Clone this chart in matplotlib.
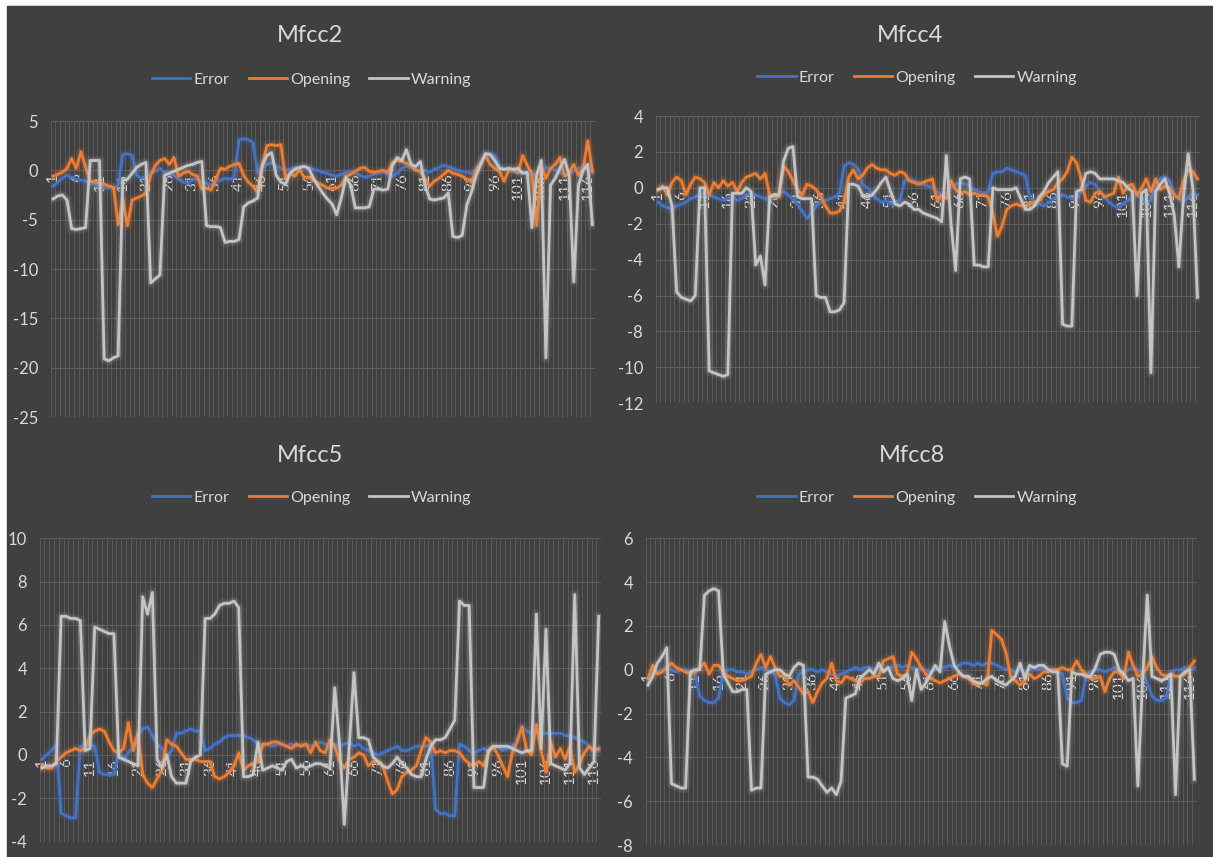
"""Four panels of Mfcc coefficients for the Error / Opening / Warning recordings."""

import matplotlib.pyplot as plt
from matplotlib.lines import Line2D
from matplotlib.patches import Rectangle

samples = list(range(1, 118))
tick_samples = list(range(1, 117, 5))
series_names = ["Error", "Opening", "Warning"]

# --- Mfcc2 ---
mfcc2_error = [
    -1.6, -1.2, -0.8, -0.5, -0.7, -0.9, -1.0, -1.1, -1.3, -1.5,
    -1.6, -1.8, -1.7, -1.9, -1.5, 1.6, 1.7, 1.5, -0.5, -0.8,
    -0.6, -0.3, -0.1, 0.2, -0.2, -0.4, -0.5, -0.9, -1.2, -1.3,
    -1.0, -0.8, -1.1, -1.3, -1.5, -1.2, -1.0, -0.8, -0.9, -0.7,
    3.1, 3.2, 3.1, 2.8, -0.2, 0.3, 0.6, 0.8, 0.4, 0.2,
    0.0, 0.1, 0.3, 0.2, 0.4, 0.3, 0.1, 0.0, -0.2, -0.3,
    -0.5, -0.6, -0.4, -0.2, -0.1, -0.3, -0.5, -0.7, -0.6, -0.4,
    -0.3, -0.2, -0.4, -0.6, -0.3, 0.2, 0.4, 0.3, 0.1, -0.1,
    0.0, -0.2, 0.1, 0.3, 0.5, 0.4, 0.2, 0.0, -0.1, -0.2,
    -0.3, 0.2, 0.9, 1.6, 1.7, 1.5, 0.4, 0.2, 0.1, -0.1,
    -0.3, -0.2, -0.4, -0.5, -0.3, 0.1, 0.3, 0.2, 0.0, -0.2,
    -0.4, -0.3, -0.1, 0.2, 0.4, 0.1, -0.2,
]
mfcc2_opening = [
    -0.6, -0.4, -0.2, 0.2, 1.2, 0.2, 1.9, 0.3, -1.1, -1.2,
    -1.3, -1.4, -1.6, -1.7, -5.5, -2.9, -5.6, -3.0, -2.8, -2.6,
    -2.3, -0.5, 0.5, 1.0, 1.2, 0.6, 1.3, -0.6, -0.3, -0.1,
    -0.4, -0.6, -1.9, -1.8, -2.0, -0.9, 0.2, 0.1, 0.4, 0.6,
    0.7, -0.5, -1.2, -1.6, -2.3, 0.5, 2.5, 2.6, 2.5, 2.6,
    -0.8, -0.3, -0.6, 0.1, -0.7, -0.7, -1.0, -1.3, -1.5, -1.8,
    -1.8, -1.8, -1.5, -0.6, -0.4, -0.1, 0.2, 0.3, -0.1, -0.2,
    -0.1, 0.0, -0.2, 0.8, 1.0, 0.9, 0.7, 0.5, 0.0, -0.1,
    -0.9, -1.6, -1.1, -0.8, -0.4, 0.0, -0.3, -0.4, -0.6, -0.9,
    -1.2, 0.0, 0.8, 1.5, 0.6, 0.2, -0.1, -1.1, 0.0, 0.1,
    -0.2, 1.5, 0.5, -0.3, -5.6, 0.4, -0.8, 0.2, 0.6, 1.3,
    -0.6, -0.3, 0.6, -0.5, 0.2, 3.0, -0.1,
]
mfcc2_warning = [
    -2.9, -2.6, -2.5, -3.0, -5.9, -6.0, -5.9, -5.8, 1.0, 1.0,
    1.0, -19.1, -19.3, -19.0, -18.8, -1.0, -0.9, -0.3, 0.3, 0.6,
    0.8, -11.4, -11.0, -10.6, -0.5, -0.3, -0.1, 0.1, 0.3, 0.5,
    0.6, 0.8, 0.9, -5.6, -5.7, -5.7, -5.8, -7.3, -7.2, -7.2,
    -7.0, -3.7, -3.3, -3.1, -2.8, 0.5, 1.5, 1.8, -0.5, -1.2,
    -1.4, -0.3, 0.1, 0.3, 0.4, 0.2, -0.8, -1.6, -2.3, -2.9,
    -3.4, -4.5, -2.8, -0.7, -1.5, -3.8, -3.8, -3.8, -3.7, -1.9,
    -1.9, -2.0, -1.9, 0.5, 1.3, 1.0, 2.1, 0.6, 0.4, 0.9,
    -1.5, -2.9, -3.0, -2.9, -2.8, -2.3, -6.7, -6.8, -6.6, -3.5,
    -2.2, -0.5, 0.6, 1.7, 1.6, 1.0, 0.2, 0.1, 0.2, 0.1,
    0.2, -0.3, -0.2, -5.8, -0.5, 1.0, -19.0, -1.5, -0.8, 0.2,
    1.1, -0.5, -11.3, -1.5, 0.0, 0.6, -5.5,
]

# --- Mfcc4 ---
mfcc4_error = [
    -0.8, -1.0, -1.1, -1.2, -1.0, -0.9, -0.8, -0.6, -0.5, -0.4,
    -0.3, -0.4, -0.5, -0.6, -0.7, -0.6, -0.5, -0.7, -0.6, -0.4,
    -0.3, -0.4, -0.5, -0.6, -0.7, -0.5, -0.3, -0.2, -0.4, -0.6,
    -0.9, -1.3, -1.7, -1.4, -1.0, -0.8, -0.7, -0.6, -0.5, -0.3,
    1.2, 1.4, 1.3, 1.1, 0.2, 0.0, -0.3, -0.6, -0.8, -0.7,
    -0.9, -0.8, -0.7, 0.4, 0.5, 0.4, 0.3, 0.2, 0.1, 0.0,
    -0.2, -0.4, -0.3, 0.0, 0.2, 0.3, 0.2, 0.1, -0.1, -0.2,
    -0.3, -0.2, 0.8, 0.9, 0.9, 1.1, 1.0, 0.9, 0.8, 0.7,
    -0.6, -0.8, -0.9, -1.0, -0.8, -0.6, -0.5, -0.4, -0.5, -0.6,
    -0.5, -0.2, 0.1, 0.3, 0.2, -0.2, -0.5, -0.8, -1.0, -1.1,
    -0.9, -0.7, -0.5, -0.4, -0.6, -0.8, -0.7, 0.3, 0.5, 0.6,
    0.4, -0.3, -0.6, -0.8, -0.5, -0.3, -0.4,
]
mfcc4_opening = [
    -0.1, 0.1, -0.4, 0.3, 0.6, 0.4, -0.4, 0.2, 0.6, 0.5,
    0.3, -0.4, 0.3, 0.0, 0.4, 0.1, 0.3, -0.2, 0.3, 0.6,
    0.7, 0.8, 0.5, 0.8, -0.4, -0.5, -0.5, 1.2, 0.9, 0.4,
    -0.1, -0.4, 0.2, 0.1, -0.1, -0.5, -1.0, -1.4, -1.4, -1.3,
    -0.8, 0.6, 1.0, 0.5, 0.7, 1.1, 1.3, 1.1, 1.0, 1.0,
    0.8, 0.7, 0.9, 0.8, 0.4, 0.3, 0.2, 0.3, 0.4, 0.5,
    -0.7, -0.4, -0.6, 0.4, -0.1, -0.3, -0.2, -0.4, -0.3, -0.4,
    -0.4, -0.5, -1.4, -2.7, -2.1, -1.2, -1.0, -0.9, -1.0, -1.0,
    -0.9, -0.8, -0.7, -0.4, -0.2, -0.1, 0.3, 0.5, 0.9, 1.7,
    1.4, 0.5, -0.7, -0.8, -0.3, -0.2, -0.5, -0.4, -0.3, 0.6,
    -0.3, 0.1, 0.2, -0.4, 0.0, 0.5, -0.2, 0.5, -0.1, 0.1,
    0.0, -0.4, -0.6, 0.4, 1.0, 0.9, 0.5,
]
mfcc4_warning = [
    -0.1, 0.0, 0.0, -1.0, -5.8, -6.1, -6.2, -6.3, -6.0, 0.0,
    0.0, -10.2, -10.3, -10.4, -10.5, -10.4, -0.3, -0.3, -0.3, 0.0,
    -0.2, -4.3, -3.8, -5.4, -0.5, -0.4, -0.4, 1.5, 2.2, 2.3,
    -0.5, -0.6, -0.6, -0.6, -6.0, -6.1, -6.1, -6.9, -6.9, -6.8,
    -6.4, 0.2, 0.2, 0.1, -0.4, -0.5, -0.4, -0.1, 0.3, 0.6,
    -0.2, -0.9, -1.0, -0.8, -0.9, -1.2, -1.2, -1.4, -1.5, -1.6,
    -1.7, -1.9, 1.8, -2.0, -4.6, 0.5, 0.6, 0.5, -4.3, -4.3,
    -4.4, -4.4, 0.0, -0.1, -0.1, -0.1, -0.1, 0.0, -0.6, -1.2,
    -1.2, -1.0, -0.5, -0.2, 0.3, 0.6, 0.9, -7.6, -7.7, -7.7,
    -0.2, -0.1, 0.8, 0.9, 0.8, 0.5, 0.5, 0.5, 0.5, 0.4,
    0.3, 0.0, -0.2, -6.0, -0.3, -0.1, -10.3, -0.2, 0.2, 0.5,
    -0.3, -1.5, -4.4, -0.5, 1.9, 0.0, -6.1,
]

# --- Mfcc5 ---
mfcc5_error = [
    -0.2, 0.0, 0.2, 0.5, -2.7, -2.8, -2.9, -2.9, 0.4, 0.4,
    0.5, 0.4, -0.8, -0.9, -0.9, -0.9, 0.1, -0.2, 0.1, 0.4,
    0.9, 1.2, 1.3, 0.9, 0.5, 0.3, -0.1, 0.2, 1.0, 1.0,
    1.1, 1.2, 1.1, 1.1, 0.2, 0.3, 0.5, 0.6, 0.8, 0.9,
    0.9, 0.9, 0.9, 0.8, 0.7, 0.5, 0.4, 0.5, 0.4, 0.5,
    0.5, 0.4, 0.5, 0.4, 0.5, 0.5, 0.4, 0.5, 0.6, 0.5,
    0.4, 0.5, 0.4, 0.5, 0.6, 0.4, 0.5, 0.3, 0.2, 0.1,
    0.0, 0.1, 0.2, 0.3, 0.4, 0.2, 0.2, 0.3, 0.4, 0.4,
    0.4, 0.5, -2.5, -2.7, -2.7, -2.8, -2.8, 0.5, 0.4, 0.2,
    0.1, 0.2, 0.3, 0.2, 0.3, 0.4, 0.2, 0.3, 0.4, 0.7,
    1.3, 1.1, 1.0, 1.0, 1.0, 1.0, 1.0, 1.0, 1.0, 0.9,
    0.9, 0.8, 0.7, 0.6, 0.4, 0.1, 0.2,
]
mfcc5_opening = [
    -0.5, -0.6, -0.6, -0.3, -0.1, 0.1, 0.2, 0.3, 0.2, 0.3,
    0.9, 1.1, 1.2, 1.1, 0.6, 0.2, 0.1, 0.3, 1.5, 0.2,
    1.0, -0.9, -1.3, -1.5, -1.1, -0.7, 0.7, 0.5, 0.4, 0.1,
    -0.2, -0.2, -0.2, -0.3, -0.3, -0.3, -1.0, -1.1, -1.0, -0.8,
    -0.5, 0.1, -0.7, -0.5, -0.4, -0.3, 0.5, 0.5, 0.6, 0.6,
    0.5, 0.4, 0.3, 0.5, 0.4, 0.5, 0.1, 0.6, 0.2, 0.1,
    0.7, 0.4, -0.3, -0.6, -0.2, -0.1, 0.1, 0.0, -0.5, -0.3,
    -0.3, -0.5, -1.2, -1.8, -1.6, -1.0, -0.8, -0.7, -0.5, 0.2,
    0.8, 0.6, 0.1, 0.2, 0.1, 0.2, 0.2, 0.1, -0.2, -0.4,
    -0.5, -0.3, -0.5, 0.1, 0.4, 0.0, -0.5, -1.0, 0.1, 0.6,
    1.3, 0.2, 0.0, 1.4, 0.2, -0.8, 0.6, -0.1, 0.3, -0.2,
    0.4, -0.8, -0.4, 0.1, 0.4, 0.2, 0.3,
]
mfcc5_warning = [
    -0.6, -0.5, -0.5, -0.4, 6.4, 6.4, 6.3, 6.3, 6.2, 0.2,
    0.3, 5.9, 5.8, 5.7, 5.6, 5.6, -0.1, -0.2, -0.3, -0.4,
    -0.5, 7.3, 6.5, 7.5, -0.2, -0.6, 0.0, -1.0, -1.3, -1.3,
    -1.3, -0.3, -0.1, 0.0, 6.3, 6.3, 6.5, 6.9, 7.0, 7.0,
    7.1, 6.8, -1.0, -1.0, -0.9, 0.6, -0.7, -0.6, -0.5, -0.6,
    -0.7, -0.3, -0.2, -0.6, -0.5, -0.6, -0.5, -0.4, -0.4, -0.5,
    -0.6, 3.1, 0.5, -3.2, 0.3, 3.8, 0.8, 0.8, 0.7, -0.1,
    -0.3, -0.5, -0.6, -0.4, -0.1, -0.4, -0.6, -0.9, -1.0, -1.0,
    -0.2, 0.4, 0.7, 0.7, 0.8, 1.2, 1.6, 7.1, 6.9, 6.9,
    -1.5, -1.5, -1.5, 0.2, 0.4, 0.4, 0.4, 0.4, 0.3, 0.2,
    0.1, 0.2, 0.2, 6.5, 0.3, 5.8, -0.4, -0.5, -0.6, -0.7,
    -0.4, 7.4, -0.6, -0.9, -0.6, -0.3, 6.4,
]

# --- Mfcc8 ---
mfcc8_error = [
    -0.4, -0.2, -0.1, 0.0, 0.1, 0.0, -0.1, 0.0, 0.0, -0.1,
    -0.2, -1.2, -1.4, -1.5, -1.5, -1.3, -0.1, 0.0, 0.0, -0.1,
    -0.1, -0.2, -0.1, 0.0, 0.1, 0.0, -0.1, -0.2, -1.3, -1.5,
    -1.6, -1.4, -0.2, -0.1, 0.0, 0.0, -0.1, 0.0, -0.1, -0.2,
    -0.3, -0.2, -0.1, 0.0, 0.1, 0.0, 0.1, 0.1, 0.0, 0.1,
    0.0, 0.1, 0.1, 0.2, 0.1, 0.2, 0.1, 0.0, 0.1, 0.0,
    -0.1, 0.0, 0.1, 0.1, 0.2, 0.1, 0.2, 0.3, 0.3, 0.2,
    0.3, 0.2, 0.3, 0.3, 0.2, 0.1, 0.0, 0.0, -0.1, 0.0,
    -0.1, 0.0, 0.1, 0.0, 0.1, 0.0, 0.0, -0.1, -0.2, -1.3,
    -1.5, -1.5, -1.4, -0.3, -0.1, 0.0, 0.0, -0.1, 0.0, 0.1,
    0.0, -0.1, 0.0, 0.1, 0.0, -0.2, -0.6, -1.2, -1.4, -1.4,
    -1.3, -0.2, 0.0, 0.0, 0.1, 0.0, 0.1,
]
mfcc8_opening = [
    -0.4, 0.2, -0.2, -0.1, 0.1, 0.3, 0.1, 0.0, -0.1, -0.2,
    -0.1, 0.1, 0.3, -0.2, 0.2, 0.2, -0.1, -0.3, -0.4, -0.5,
    -0.5, -0.4, -0.3, 0.3, 0.7, 0.1, 0.6, 0.1, -0.3, -0.3,
    -0.7, -0.5, -0.8, -1.1, -1.0, -1.5, -1.0, -0.6, -0.4, 0.3,
    -0.5, -0.6, -0.3, -0.4, -0.5, -0.6, -0.4, -0.4, -0.3, -0.3,
    0.4, 0.5, 0.6, -0.2, -0.3, -0.2, 0.8, 0.5, 0.1, -0.2,
    -0.4, -0.5, -0.6, -0.5, -0.4, -0.3, -0.2, -0.3, -0.4, -0.6,
    -0.7, -0.6, -0.7, 1.8, 1.6, 1.4, 0.8, -0.3, -0.5, -0.7,
    -0.5, -0.2, -0.4, -0.3, -0.1, -0.1, 0.0, 0.0, 0.1, 0.0,
    0.0, 0.4, 0.0, -0.2, -0.4, -0.4, -0.3, -1.0, -0.4, -0.1,
    -0.1, -0.4, 0.8, 0.2, -0.3, -0.2, 0.1, 0.6, 0.1, -0.2,
    -0.3, -0.2, -0.3, -0.3, -0.2, 0.1, 0.4,
]
mfcc8_warning = [
    -0.7, -0.3, 0.3, 0.6, 1.0, -5.2, -5.3, -5.4, -5.4, -0.1,
    0.0, 0.0, 3.4, 3.6, 3.7, 3.6, -0.2, -0.6, -1.0, -1.0,
    -0.9, -0.9, -5.5, -5.4, -5.4, -0.2, -0.1, 0.0, 0.0, -0.2,
    -0.3, 0.1, 0.3, 0.2, -4.9, -4.9, -5.0, -5.3, -5.6, -5.4,
    -5.7, -5.1, -1.3, -1.2, -1.1, -0.4, -0.2, 0.0, -0.2, 0.3,
    -0.1, 0.1, -0.4, -0.5, -0.4, -0.2, -1.4, 0.0, -0.9, -0.6,
    -0.2, 0.2, -0.1, 2.2, 1.1, 0.2, -0.1, -0.3, -0.3, -0.5,
    -0.6, -0.6, -0.4, -0.3, -0.5, -0.6, -0.7, -0.5, -0.3, 0.3,
    -0.4, 0.2, 0.1, 0.2, 0.2, 0.0, -0.1, -0.1, -4.3, -4.4,
    -0.1, -0.2, -0.2, -0.3, -0.3, 0.1, 0.7, 0.8, 0.8, 0.7,
    0.0, -0.2, -0.5, -0.4, -5.3, -0.5, 3.4, -0.3, -0.4, -0.5,
    -0.4, -0.2, -5.7, -0.3, -0.1, 0.0, -5.0,
]

panel_titles = ["Mfcc2", "Mfcc4", "Mfcc5", "Mfcc8"]
panel_yticks = [
    [-25, -20, -15, -10, -5, 0, 5],
    [-12, -10, -8, -6, -4, -2, 0, 2, 4],
    [-4, -2, 0, 2, 4, 6, 8, 10],
    [-8, -6, -4, -2, 0, 2, 4, 6],
]

BG = "#404040"
TEXT = "#d9d9d9"
GRID = "#5e5e5e"
COLORS = ["#4472c4", "#ed7d31", "#c4c4c4"]

plt.rcParams["font.family"] = ["Lato", "DejaVu Sans"]
plt.rcParams["axes.unicode_minus"] = False


def draw_panel(ax, series, yticks):
    ax.set_facecolor("none")
    for spine in ax.spines.values():
        spine.set_visible(False)
    # category axis crosses the value axis at zero, like the Excel original
    ax.spines["bottom"].set_position(("data", 0))

    for values, color in zip(series, COLORS):
        ax.plot(samples, values, color=color, lw=7, alpha=0.10, solid_joinstyle="round")
        ax.plot(samples, values, color=color, lw=3.8, alpha=0.18, solid_joinstyle="round")
        ax.plot(samples, values, color=color, lw=2.0, solid_joinstyle="round")

    ax.set_xlim(0.5, len(samples) + 0.5)
    ax.set_ylim(yticks[0], yticks[-1])
    ax.set_yticks(yticks)
    ax.set_xticks(tick_samples, labels=[str(s) for s in tick_samples])
    ax.set_xticks([s + 0.5 for s in range(0, len(samples) + 1)], minor=True)

    ax.grid(which="minor", axis="x", color=GRID, lw=0.6)
    ax.grid(which="major", axis="y", color=GRID, lw=0.8)
    ax.set_axisbelow(True)

    ax.tick_params(axis="x", which="both", length=0)
    ax.tick_params(axis="x", labelrotation=90, labelsize=11, labelcolor=TEXT, pad=2)
    ax.tick_params(axis="y", length=0, labelsize=12, labelcolor=TEXT, pad=9)


def main():
    fig = plt.figure(figsize=(12.13, 8.57), dpi=100)
    fig.patch.set_facecolor("white")
    fig.add_artist(Rectangle((7 / 1213, 0), 1, 1 - 6 / 857,
                             transform=fig.transFigure, color=BG, zorder=-10))

    rects = [
        (0.0418, 0.5134, 0.4485, 0.3454),
        (0.5406, 0.5294, 0.4485, 0.3352),
        (0.0326, 0.0179, 0.4630, 0.3540),
        (0.5322, 0.0140, 0.4544, 0.3579),
    ]
    all_series = [
        (mfcc2_error, mfcc2_opening, mfcc2_warning),
        (mfcc4_error, mfcc4_opening, mfcc4_warning),
        (mfcc5_error, mfcc5_opening, mfcc5_warning),
        (mfcc8_error, mfcc8_opening, mfcc8_warning),
    ]
    title_pos = [(0.2556, 0.959), (0.750, 0.959), (0.2556, 0.469), (0.752, 0.469)]
    legend_pos = [(0.257, 0.907), (0.756, 0.909), (0.257, 0.419), (0.756, 0.419)]

    handles = [Line2D([], [], color=c, lw=2) for c in COLORS]
    for rect, series, yticks, title, tpos, lpos in zip(
        rects, all_series, panel_yticks, panel_titles, title_pos, legend_pos
    ):
        ax = fig.add_axes(rect)
        draw_panel(ax, series, yticks)
        fig.text(*tpos, title, ha="center", va="center", fontsize=17, color=TEXT)
        fig.legend(handles, series_names, loc="center", bbox_to_anchor=lpos,
                   ncol=3, frameon=False, fontsize=11.5, labelcolor=TEXT,
                   handlelength=2.4, handletextpad=0.2, columnspacing=1.2)

    fig.savefig("out.png", dpi=100, facecolor=fig.get_facecolor())


if __name__ == "__main__":
    main()
